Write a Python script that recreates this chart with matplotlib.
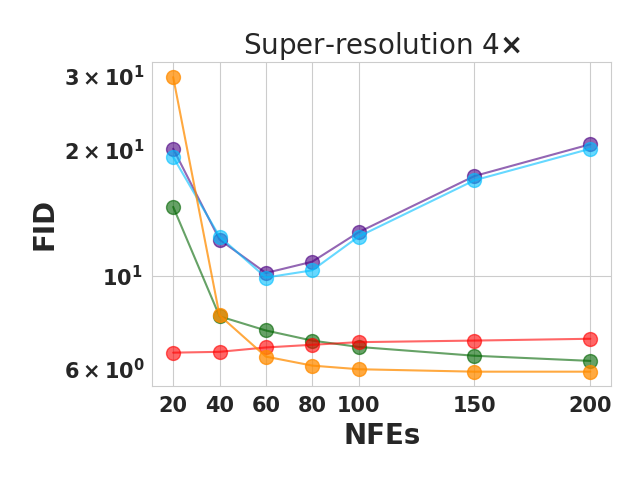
import matplotlib
matplotlib.use("Agg")
import matplotlib.pyplot as plt
import seaborn as sns

sns.set_style("whitegrid")
plt.rcParams['font.family'] = ['DejaVu Sans']

nfes = [20, 40, 60, 80, 100, 150, 200]
purple = [20.1, 12.2, 10.15, 10.8, 12.7, 17.3, 20.6]
lightblue = [19.2, 12.4, 9.9, 10.3, 12.4, 16.9, 20.1]
green = [14.6, 8.0, 7.4, 7.0, 6.76, 6.44, 6.26]
red = [6.55, 6.58, 6.74, 6.84, 6.94, 7.0, 7.07]
orange = [29.8, 8.04, 6.41, 6.10, 5.98, 5.90, 5.90]

fig, ax = plt.subplots(figsize=(6.4, 4.8), dpi=100)
kw = dict(marker='o', markersize=10, linewidth=1.5)
ax.plot(nfes, green, color='darkgreen', alpha=0.6, **kw)
ax.plot(nfes, red, color='red', alpha=0.6, **kw)
ax.plot(nfes, purple, color='indigo', alpha=0.6, **kw)
ax.plot(nfes, lightblue, color='deepskyblue', alpha=0.6, **kw)
ax.plot(nfes, orange, color='darkorange', alpha=0.75, **kw)

ax.set_yscale('log')
ax.set_xticks(nfes)
ax.set_xticklabels([str(v) for v in nfes])
ax.tick_params(axis='both', which='both', labelsize=15)
ax.set_xlabel('NFEs', fontsize=20, fontweight='bold')
ax.set_ylabel('FID', fontsize=20, fontweight='bold')
ax.set_title(r'Super-resolution 4$\boldsymbol{\times}$', fontsize=20)
fig.subplots_adjust(left=0.238, right=0.955, top=0.87, bottom=0.195)
fig.canvas.draw()
for lab in ax.get_xticklabels() + ax.get_yticklabels(which='both'):
    lab.set_fontweight('bold')
fig.savefig('out.png', dpi=100)
